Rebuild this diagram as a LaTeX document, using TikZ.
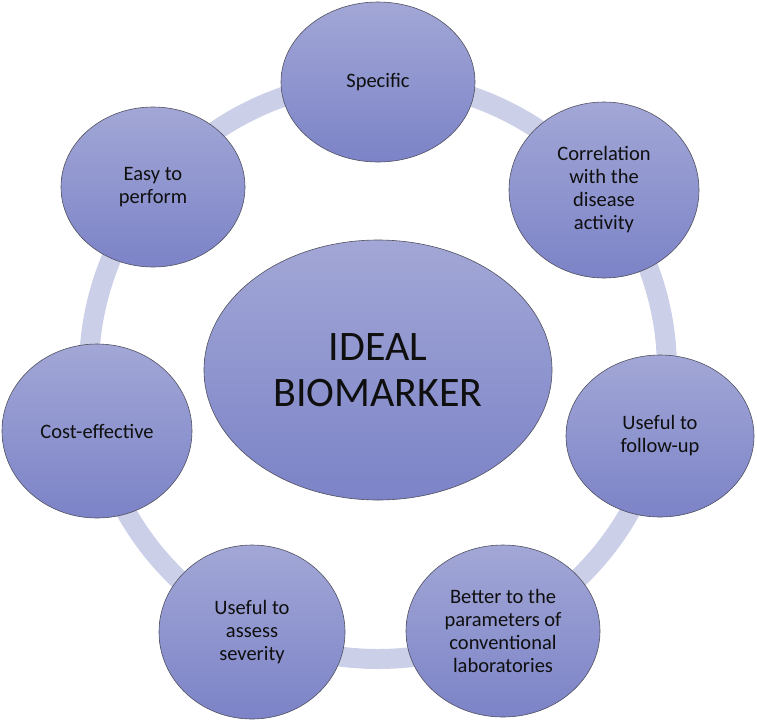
\documentclass[tikz,border=0pt]{standalone}
\usepackage{fontspec}
\setmainfont{Carlito}
\usetikzlibrary{shapes.geometric}
\definecolor{topc}{RGB}{162,167,214}
\definecolor{botc}{RGB}{124,131,199}
\definecolor{ringc}{RGB}{204,207,232}
\definecolor{edgec}{RGB}{80,80,96}
\definecolor{txt}{RGB}{15,15,15}
\tikzset{
  bub/.style={ellipse, draw=edgec, line width=0.6pt, top color=topc, bottom color=botc,
    inner sep=0pt, align=center, text=txt, font=\fontsize{20.5}{23}\selectfont},
  ringline/.style={draw=ringc, line width=20pt}
}
\begin{document}
\begin{tikzpicture}[x=1pt,y=-1pt]
\useasboundingbox (0,0) rectangle (757,721);
\coordinate (c) at (378,370);
\draw[ringline] (c) circle[radius=289];
\node[bub, minimum width=348, minimum height=260, font=\fontsize{42}{46}\selectfont] (main) at (378,370) {IDEAL\\BIOMARKER};
\node[bub, minimum width=194, minimum height=160] (spec) at (378,82) {Specific};
\node[bub, minimum width=190, minimum height=176] (corr) at (604,190) {Correlation\\with the\\disease\\activity};
\node[bub, minimum width=188, minimum height=162] (follow) at (660,436) {Useful to\\follow-up};
\node[bub, minimum width=194, minimum height=172] (better) at (503,631) {Better to the\\parameters of\\conventional\\laboratories};
\node[bub, minimum width=186, minimum height=174] (sev) at (252,632) {Useful to\\assess\\severity};
\node[bub, minimum width=190, minimum height=174] (cost) at (97,431) {Cost-effective};
\node[bub, minimum width=184, minimum height=160] (easy) at (153,187) {Easy to\\perform};
\end{tikzpicture}
\end{document}
